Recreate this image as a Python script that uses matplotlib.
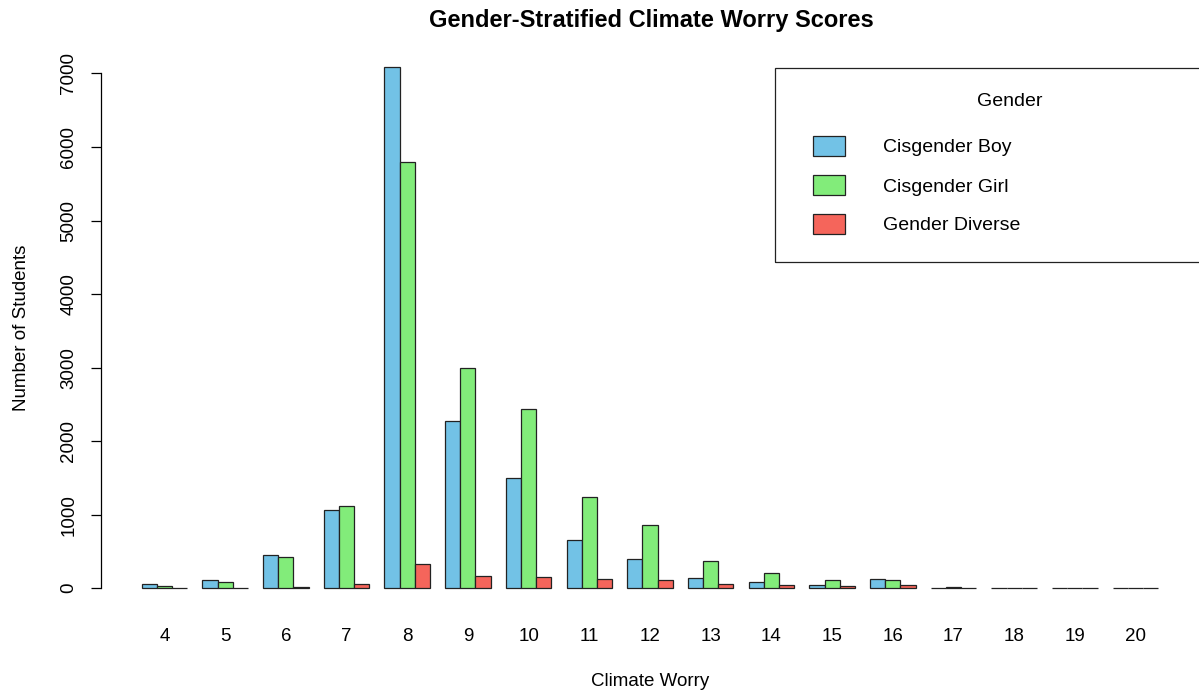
import numpy as np
import matplotlib.pyplot as plt
from matplotlib.patches import Rectangle

plt.rcParams['font.family'] = ['Liberation Sans', 'DejaVu Sans']

# Data
scores = [4, 5, 6, 7, 8, 9, 10, 11, 12, 13, 14, 15, 16, 17, 18, 19, 20]
boys = [55, 110, 450, 1060, 7090, 2270, 1500, 650, 400, 140, 80, 45, 120, 5, 3, 2, 2]
girls = [30, 85, 430, 1120, 5800, 3000, 2440, 1240, 860, 370, 210, 110, 110, 20, 8, 3, 3]
diverse = [5, 3, 10, 50, 330, 170, 155, 130, 110, 50, 45, 25, 45, 3, 2, 1, 1]

genders = ['Cisgender Boy', 'Cisgender Girl', 'Gender Diverse']
colors = ['#72C2E6', '#82EC7A', '#F5655B']
series = [boys, girls, diverse]

fig = plt.figure(figsize=(11.99, 6.91), dpi=100)
W, H = 1199, 691
ax = fig.add_axes([101 / W, (691 - 609) / H, (1199 - 101) / W, (609 - 46) / H])

# R-style grouped bars: each group = 3 bars + 1 gap, unit width
n = len(scores)
group_left = 1 + 4 * np.arange(n)
for k, (vals, col) in enumerate(zip(series, colors)):
    ax.bar(group_left + k + 0.5, vals, width=1.0, color=col,
           edgecolor='#222222', linewidth=0.9)

ymax = max(boys)
ax.set_xlim(1 - 0.04 * 67, 68 + 0.04 * 67)
ax.set_ylim(-0.04 * ymax, ymax * 1.04)

for s in ['top', 'right', 'bottom']:
    ax.spines[s].set_visible(False)
ax.spines['left'].set_bounds(0, 7000)
ax.spines['left'].set_linewidth(0.9)
ax.set_yticks(np.arange(0, 7001, 1000))
ax.set_yticklabels([str(v) for v in range(0, 7001, 1000)], rotation=90, va='center')
ax.tick_params(axis='y', length=7, width=0.9, labelsize=13.5, pad=10)

ax.set_xticks(group_left + 1.5)
ax.set_xticklabels([str(s) for s in scores])
ax.tick_params(axis='x', length=0, labelsize=13.5, pad=13.5)

ax.set_xlabel('Climate Worry', fontsize=13.5, labelpad=20)
ax.set_ylabel('Number of Students', fontsize=13.5, labelpad=22)
fig.text(651 / W, 1 - 20 / H, 'Gender-Stratified Climate Worry Scores',
         ha='center', va='center', fontsize=17, fontweight='bold')

# legend box, drawn like R's legend()
def fx(px):
    return px / W

def fy(py):
    return 1 - py / H

fig.patches.append(Rectangle((fx(775), fy(262)), fx(1199 - 775 + 5), (262 - 68) / H,
                             transform=fig.transFigure, fill=False,
                             edgecolor='#222222', linewidth=0.9))
fig.text(fx(1010), fy(101), 'Gender', ha='center', va='center', fontsize=14)
for i, (lab, col) in enumerate(zip(genders, colors)):
    yc = 146 + 39 * i
    fig.patches.append(Rectangle((fx(813), fy(yc + 10)), fx(32), 20 / H,
                                 transform=fig.transFigure, facecolor=col,
                                 edgecolor='#222222', linewidth=0.9))
    fig.text(fx(883), fy(yc + 2), lab, ha='left', va='center', fontsize=14)

fig.savefig('out.png', dpi=100)
